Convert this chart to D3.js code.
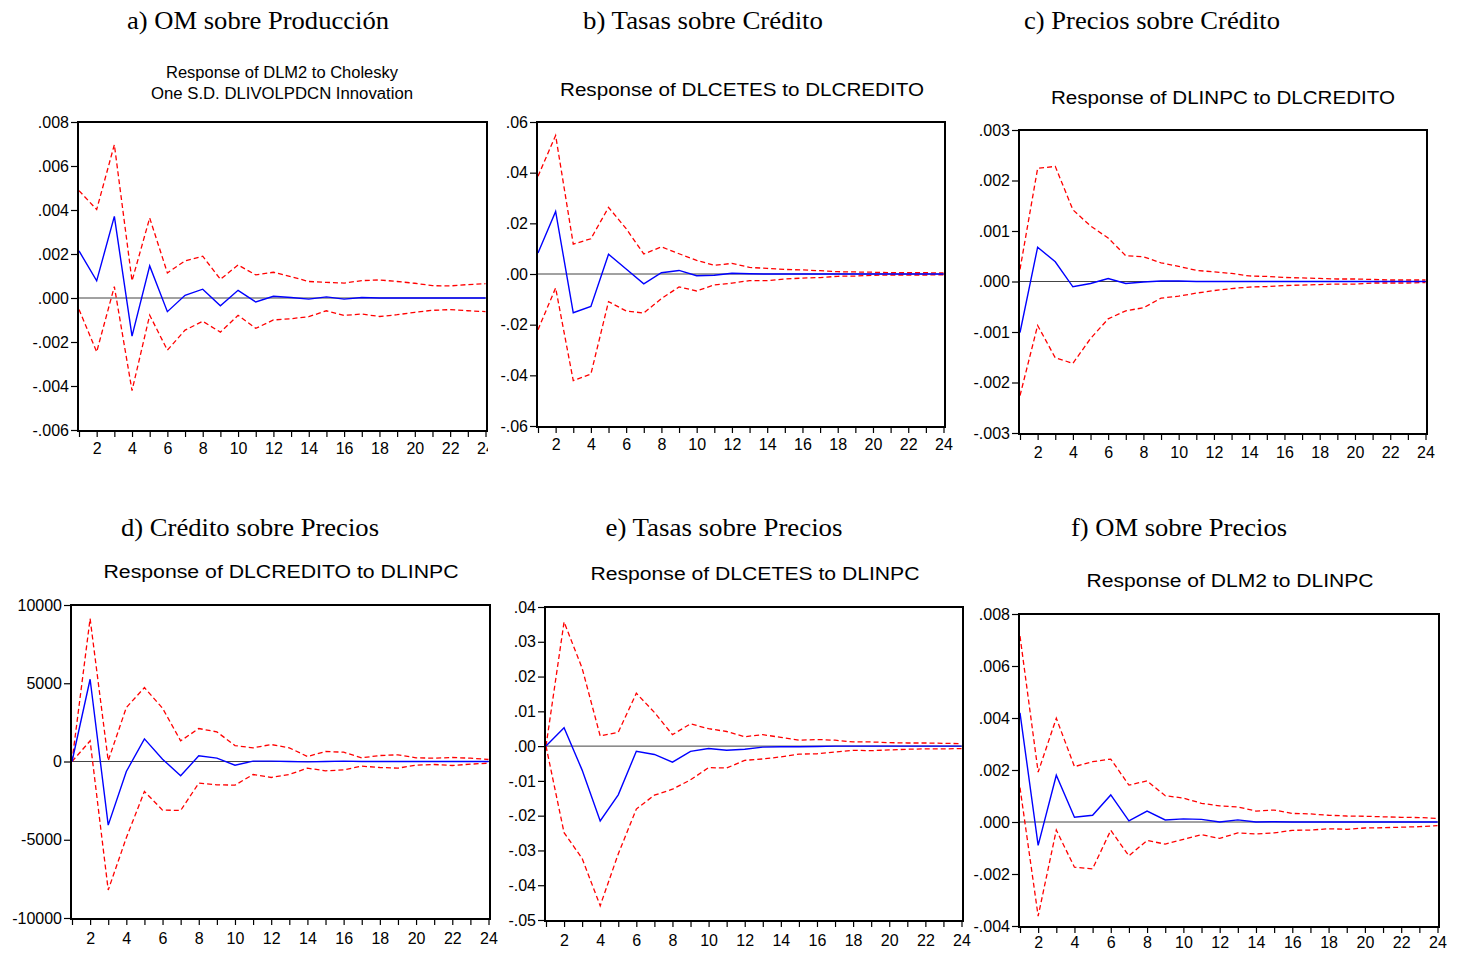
<!DOCTYPE html>
<html><head><meta charset="utf-8">
<script src="https://cdn.jsdelivr.net/npm/d3@7"></script>
<style>body{margin:0;background:#fff} svg{display:block}</style>
</head><body>
<svg id="c" width="1460" height="953"></svg>
<script>
// ---------- data ----------
const periods = [1,2,3,4,5,6,7,8,9,10,11,12,13,14,15,16,17,18,19,20,21,22,23,24];
const xTickLabels = ["","2","","4","","6","","8","","10","","12","","14","","16","","18","","20","","22","","24"];

const sectionTitles = ["a) OM sobre Producción","b) Tasas sobre Crédito","c) Precios sobre Crédito","d) Crédito sobre Precios","e) Tasas sobre Precios","f) OM sobre Precios"];
const innerTitles = [
  ["Response of DLM2 to Cholesky","One S.D. DLIVOLPDCN Innovation"],
  ["Response of DLCETES to DLCREDITO"],
  ["Response of DLINPC to DLCREDITO"],
  ["Response of DLCREDITO to DLINPC"],
  ["Response of DLCETES to DLINPC"],
  ["Response of DLM2 to DLINPC"]
];

// a) DLM2 to DLIVOLPDCN
const respA  = [0.00214,0.00078,0.00371,-0.00173,0.00146,-0.00062,0.00012,0.0004,-0.00035,0.00035,-0.00018,0.00008,0.00002,-0.00005,0.00005,-0.00005,0.00002,0,0,0,0,0,0,0];
const upperA = [0.00488,0.00402,0.00697,0.00078,0.00364,0.00114,0.00169,0.0019,0.00085,0.0015,0.00105,0.00117,0.00097,0.00075,0.00071,0.00068,0.00079,0.00082,0.00075,0.00067,0.00056,0.00055,0.00061,0.00065];
const lowerA = [-0.00052,-0.00245,0.00052,-0.00421,-0.00078,-0.00237,-0.00146,-0.00106,-0.00155,-0.00079,-0.00138,-0.001,-0.00094,-0.00085,-0.00058,-0.00079,-0.00073,-0.00084,-0.00076,-0.00065,-0.00056,-0.00053,-0.00058,-0.00062];
const yTicksA = [-0.006,-0.004,-0.002,0,0.002,0.004,0.006,0.008];
const yLabelsA = ["-.006","-.004","-.002",".000",".002",".004",".006",".008"];

// b) DLCETES to DLCREDITO
const respB  = [0.0083,0.0247,-0.0153,-0.0128,0.0078,0.002,-0.0039,0.0005,0.0014,-0.0007,-0.0005,0.0003,0.0001,0,0,0,0,0,0,0,0,0,0,0];
const upperB = [0.0386,0.0547,0.0118,0.0139,0.0263,0.0179,0.0079,0.0107,0.008,0.0054,0.0034,0.0042,0.0026,0.0022,0.0018,0.0016,0.0013,0.0009,0.0008,0.0007,0.0005,0.0005,0.0005,0.0004];
const lowerB = [-0.022,-0.0055,-0.0421,-0.0395,-0.0109,-0.0146,-0.0154,-0.0097,-0.0051,-0.0067,-0.0043,-0.0036,-0.0026,-0.0026,-0.002,-0.0016,-0.0014,-0.0009,-0.0008,-0.0005,-0.0004,-0.0004,-0.0004,-0.0003];
const yTicksB = [-0.06,-0.04,-0.02,0,0.02,0.04,0.06];
const yLabelsB = ["-.06","-.04","-.02",".00",".02",".04",".06"];

// c) DLINPC to DLCREDITO
const respC  = [-0.00101,0.00068,0.00039,-0.000105,-0.00004,0.00006,-0.00004,-0.00001,0.00001,0.00001,0,0,0,0,0,0,0,0,0,0,0,0,0,0];
const upperC = [0.00024,0.00224,0.00228,0.00142,0.0011,0.00086,0.00051,0.00049,0.00037,0.0003,0.00022,0.00019,0.00016,0.00011,0.0001,0.00008,0.00007,0.00006,0.00005,0.00005,0.00004,0.00003,0.00003,0.00003];
const lowerC = [-0.00226,-0.00087,-0.00151,-0.00162,-0.00113,-0.00074,-0.00058,-0.00052,-0.00033,-0.00029,-0.00023,-0.00018,-0.00014,-0.00011,-0.0001,-0.00008,-0.00007,-0.00006,-0.00005,-0.00005,-0.00003,-0.00003,-0.00003,-0.00002];
const yTicksC = [-0.003,-0.002,-0.001,0,0.001,0.002,0.003];
const yLabelsC = ["-.003","-.002","-.001",".000",".001",".002",".003"];

// d) DLCREDITO to DLINPC
const respD  = [0,5255,-4064,-638,1447,149,-915,362,213,-234,21,21,0,-21,0,21,0,0,0,0,0,0,0,0];
const upperD = [0,9128,50,3447,4723,3404,1319,2106,1894,1021,872,1085,872,319,638,596,234,383,426,234,213,255,213,128];
const lowerD = [0,1319,-8213,-4872,-1915,-3106,-3128,-1383,-1489,-1511,-830,-1021,-830,-426,-596,-532,-298,-383,-426,-234,-191,-255,-170,-106];
const yTicksD = [-10000,-5000,0,5000,10000];
const yLabelsD = ["-10000","-5000","0","5000","10000"];

// e) DLCETES to DLINPC
const respE  = [0,0.0053,-0.0069,-0.0215,-0.014,-0.0015,-0.0024,-0.0046,-0.0015,-0.0007,-0.0012,-0.0009,-0.0003,-0.0002,-0.0002,-0.0001,0,0,0,0,0,0,0,0];
const upperE = [0,0.0357,0.0224,0.0029,0.004,0.0152,0.0097,0.0033,0.0064,0.005,0.0042,0.0027,0.0033,0.0025,0.0017,0.0019,0.0017,0.0012,0.0012,0.001,0.0009,0.0009,0.0008,0.0007];
const lowerE = [0,-0.0249,-0.0323,-0.0459,-0.031,-0.0181,-0.0141,-0.0124,-0.0097,-0.0062,-0.0063,-0.0041,-0.0037,-0.0031,-0.0023,-0.0022,-0.0017,-0.0012,-0.0013,-0.0011,-0.0009,-0.0008,-0.0008,-0.0007];
const yTicksE = [-0.05,-0.04,-0.03,-0.02,-0.01,0,0.01,0.02,0.03,0.04];
const yLabelsE = ["-.05","-.04","-.03","-.02","-.01",".00",".01",".02",".03",".04"];

// f) DLM2 to DLINPC
const respF  = [0.0042,-0.0009,0.0018,0.00018,0.00026,0.00104,0.00004,0.00042,0.00008,0.00012,0.0001,0,0.00008,0,0.00001,0,0,0,0,0,0,0,0,0];
const upperF = [0.00715,0.00192,0.00399,0.00213,0.00232,0.00242,0.00142,0.00158,0.00101,0.00092,0.00072,0.00062,0.00058,0.00042,0.00046,0.00033,0.00031,0.00026,0.00023,0.00022,0.0002,0.00018,0.00017,0.00014];
const lowerF = [0.00132,-0.00362,-0.00031,-0.00174,-0.0018,-0.00032,-0.0013,-0.00071,-0.00085,-0.00067,-0.00049,-0.00063,-0.00042,-0.00046,-0.00042,-0.00032,-0.00031,-0.00026,-0.00028,-0.00023,-0.00022,-0.0002,-0.00018,-0.00014];
const yTicksF = [-0.004,-0.002,0,0.002,0.004,0.006,0.008];
const yLabelsF = ["-.004","-.002",".000",".002",".004",".006",".008"];

// ---------- layout ----------
const panels = [
  {resp:respA, up:upperA, lo:lowerA, yt:yTicksA, yl:yLabelsA, dom:[-0.006,0.008],
   L:78, T:122, R:487, B:431, clipR:488, xpad:6,
   sec:{cx:258, y:29, w:262}, inner:{cx:282, ys:[78,99], ws:[232,262], fs:16}},
  {resp:respB, up:upperB, lo:lowerB, yt:yTicksB, yl:yLabelsB, dom:[-0.06,0.06],
   L:537, T:122, R:945, B:427, xpad:6,
   sec:{cx:703, y:29, w:240}, inner:{cx:742, ys:[96], ws:[364], fs:18}},
  {resp:respC, up:upperC, lo:lowerC, yt:yTicksC, yl:yLabelsC, dom:[-0.003,0.003],
   L:1019, T:130, R:1427, B:434, xpad:6.5,
   sec:{cx:1152, y:29, w:256}, inner:{cx:1223, ys:[104], ws:[344], fs:18}},
  {resp:respD, up:upperD, lo:lowerD, yt:yTicksD, yl:yLabelsD, dom:[-10000,10000],
   L:71, T:605, R:490, B:919, xpad:7.5,
   sec:{cx:250, y:536, w:258}, inner:{cx:281, ys:[578], ws:[355], fs:18}},
  {resp:respE, up:upperE, lo:lowerE, yt:yTicksE, yl:yLabelsE, dom:[-0.05,0.04],
   L:545, T:607, R:963, B:921, xpad:7.5,
   sec:{cx:724, y:536, w:237}, inner:{cx:755, ys:[580], ws:[329], fs:18}},
  {resp:respF, up:upperF, lo:lowerF, yt:yTicksF, yl:yLabelsF, dom:[-0.004,0.008],
   L:1019, T:614, R:1439, B:927, xpad:3.5,
   sec:{cx:1179, y:536, w:216}, inner:{cx:1230, ys:[587], ws:[287], fs:18}}
];

const svg = d3.select("#c");
const defs = svg.append("defs");
const SANS = "'Liberation Sans', Arial, sans-serif";
const SERIF = "'Liberation Serif', 'Times New Roman', serif";

panels.forEach((p, i) => {
  let g = svg.append("g");
  if (p.clipR) {
    defs.append("clipPath").attr("id","clip"+i).append("rect")
      .attr("x",0).attr("y",0).attr("width",p.clipR).attr("height",953);
    g.attr("clip-path","url(#clip"+i+")");
  }
  // titles
  g.append("text").attr("x",p.sec.cx).attr("y",p.sec.y).attr("text-anchor","middle")
    .attr("font-family",SERIF).attr("font-size",26).attr("fill","#000")
    .attr("textLength",p.sec.w).attr("lengthAdjust","spacingAndGlyphs")
    .text(sectionTitles[i]);
  innerTitles[i].forEach((t, k) => {
    g.append("text").attr("x",p.inner.cx).attr("y",p.inner.ys[k]).attr("text-anchor","middle")
      .attr("font-family",SANS).attr("font-size",p.inner.fs).attr("fill","#000")
      .attr("textLength",p.inner.ws[k]).attr("lengthAdjust","spacingAndGlyphs")
      .text(t);
  });

  const x = d3.scaleLinear().domain([1,24]).range([p.L+1, p.R-1.5]);
  const y = d3.scaleLinear().domain(p.dom).range([p.B-1, p.T]);

  // axes
  const ya = g.append("g").attr("transform",`translate(${p.L},0)`)
    .call(d3.axisLeft(y).tickValues(p.yt).tickSize(7).tickPadding(2)
      .tickFormat((d,j) => p.yl[j]));
  ya.select(".domain").remove();
  ya.selectAll("text").attr("font-family",SANS).attr("font-size",16).attr("fill","#000");
  ya.selectAll("line").attr("stroke","#000").attr("stroke-width",1.2);

  const xa = g.append("g").attr("transform",`translate(0,${p.B})`)
    .call(d3.axisBottom(x).tickValues(periods).tickSize(6).tickPadding(p.xpad)
      .tickFormat((d,j) => xTickLabels[j]));
  xa.select(".domain").remove();
  xa.selectAll("text").attr("font-family",SANS).attr("font-size",16).attr("fill","#000");
  xa.selectAll("line").attr("stroke","#000").attr("stroke-width",1.2);

  // zero line
  g.append("line").attr("x1",p.L).attr("x2",p.R).attr("y1",y(0)).attr("y2",y(0))
    .attr("stroke","#444").attr("stroke-width",1);

  const line = d3.line().x((d,j) => x(periods[j])).y(d => y(d));
  g.append("path").datum(p.up).attr("d",line).attr("fill","none")
    .attr("stroke","#ff0000").attr("stroke-width",1.3).attr("stroke-dasharray","5,3");
  g.append("path").datum(p.lo).attr("d",line).attr("fill","none")
    .attr("stroke","#ff0000").attr("stroke-width",1.3).attr("stroke-dasharray","5,3");
  g.append("path").datum(p.resp).attr("d",line).attr("fill","none")
    .attr("stroke","#0000ff").attr("stroke-width",1.4);

  // frame
  g.append("rect").attr("x",p.L).attr("y",p.T).attr("width",p.R-p.L).attr("height",p.B-p.T)
    .attr("fill","none").attr("stroke","#000").attr("stroke-width",2);
});
</script>
</body></html>
